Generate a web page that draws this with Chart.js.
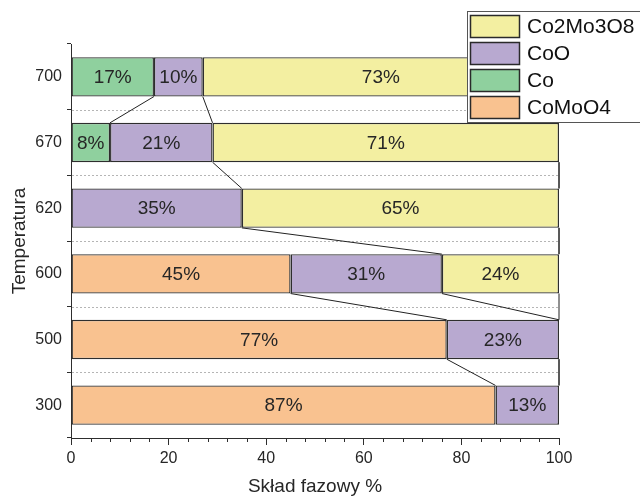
<!DOCTYPE html>
<html>
<head>
<meta charset="utf-8">
<script src="https://cdn.jsdelivr.net/npm/chart.js@4.4.1/dist/chart.umd.min.js"></script>
<style>
  html, body { margin: 0; padding: 0; background: #fff; }
  #wrap { width: 640px; height: 498px; position: relative; }
</style>
</head>
<body>
<div id="wrap"><canvas id="c" width="640" height="498"></canvas></div>
<script>
// ---- Data ----
const temperatures = ['700', '670', '620', '600', '500', '300'];
const seriesNames = ['CoMoO4', 'Co', 'CoO', 'Co2Mo3O8'];
const coMoO4 = [0, 0, 0, 45, 77, 87];
const co = [17, 8, 0, 0, 0, 0];
const coO = [10, 21, 35, 31, 23, 13];
const co2Mo3O8 = [73, 71, 65, 24, 0, 0];
const xTicks = [0, 20, 40, 60, 80, 100];
const legendOrder = ['Co2Mo3O8', 'CoO', 'Co', 'CoMoO4'];

const seriesValues = [coMoO4, co, coO, co2Mo3O8];
const seriesColors = ['#F9C290', '#8FD09E', '#B8A9D0', '#F3EFA1'];

const FONT = "'Liberation Sans', Arial, sans-serif";
const TEXT = '#262626';
const LINE = '#2e2e2e';

const datasets = seriesNames.map((name, i) => ({
  label: name,
  data: seriesValues[i].map(v => (v ? v : null)),
  backgroundColor: seriesColors[i],
  borderColor: LINE,
  borderWidth: 1.4,
  borderSkipped: false,
  barPercentage: 0.6,
  categoryPercentage: 1.0
}));

// Plugin: dotted separators between categories + minor x ticks
const decorPlugin = {
  id: 'decor',
  beforeDatasetsDraw(chart) {
    const { ctx, chartArea, scales } = chart;
    const y = scales.y;
    ctx.save();
    ctx.strokeStyle = '#b5b5b5';
    ctx.lineWidth = 1;
    ctx.setLineDash([2, 2]);
    for (let i = 0; i < temperatures.length - 1; i++) {
      const py = Math.round((y.getPixelForValue(i) + y.getPixelForValue(i + 1)) / 2) + 0.5;
      ctx.beginPath();
      ctx.moveTo(chartArea.left + 1, py);
      ctx.lineTo(chartArea.right, py);
      ctx.stroke();
    }
    ctx.restore();
  },
  afterDraw(chart) {
    const { ctx, chartArea, scales } = chart;
    const x = scales.x;
    ctx.save();
    ctx.strokeStyle = LINE;
    ctx.lineWidth = 1;
    for (let v = 4; v < 100; v += 4) {
      if (v % 20 === 0) continue;
      const px = Math.round(x.getPixelForValue(v)) + 0.5;
      ctx.beginPath();
      ctx.moveTo(px, chartArea.bottom);
      ctx.lineTo(px, chartArea.bottom + 4);
      ctx.stroke();
    }
    ctx.restore();
  }
};

// Plugin: connector lines between adjacent bars + value labels
const connectPlugin = {
  id: 'connect',
  afterDatasetsDraw(chart) {
    const { ctx } = chart;
    ctx.save();
    ctx.strokeStyle = '#222';
    ctx.lineWidth = 1;
    const metas = seriesNames.map((_, d) => chart.getDatasetMeta(d));
    for (let i = 0; i < temperatures.length - 1; i++) {
      let lastUpper = null, lastLower = null;
      for (let d = 0; d < seriesNames.length; d++) {
        const a = metas[d].data[i], b = metas[d].data[i + 1];
        const va = seriesValues[d][i], vb = seriesValues[d][i + 1];
        if (va) lastUpper = a;
        if (vb) lastLower = b;
        if (va && vb) {
          ctx.beginPath();
          ctx.moveTo(a.x, a.y + a.height / 2);
          ctx.lineTo(b.x, b.y - b.height / 2);
          ctx.stroke();
        }
      }
      if (lastUpper && lastLower) {
        ctx.beginPath();
        ctx.moveTo(lastUpper.x, lastUpper.y + lastUpper.height / 2);
        ctx.lineTo(lastLower.x, lastLower.y - lastLower.height / 2);
        ctx.stroke();
      }
    }
    // value labels
    ctx.fillStyle = TEXT;
    ctx.font = '19px ' + FONT;
    ctx.textAlign = 'center';
    ctx.textBaseline = 'middle';
    for (let d = 0; d < seriesNames.length; d++) {
      metas[d].data.forEach((el, i) => {
        const v = seriesValues[d][i];
        if (!v) return;
        ctx.fillText(v + '%', (el.x + el.base) / 2, el.y + 1);
      });
    }
    ctx.restore();
  }
};

// Plugin: legend box overlapping the top-right
const legendPlugin = {
  id: 'boxLegend',
  afterDraw(chart) {
    const { ctx } = chart;
    const bx = 467.5, by = 11.5, bw = 200, bh = 111;
    ctx.save();
    ctx.fillStyle = '#fff';
    ctx.fillRect(bx, by, bw, bh);
    ctx.strokeStyle = '#555';
    ctx.lineWidth = 1;
    ctx.strokeRect(bx, by, bw, bh);
    ctx.font = '21px ' + FONT;
    ctx.textAlign = 'left';
    ctx.textBaseline = 'middle';
    legendOrder.forEach((name, k) => {
      const d = seriesNames.indexOf(name);
      const sy = 15 + k * 27;
      ctx.fillStyle = seriesColors[d];
      ctx.fillRect(470, sy, 50, 23);
      ctx.strokeStyle = '#2a2a2a';
      ctx.lineWidth = 1.5;
      ctx.strokeRect(470.5, sy + 0.5, 49, 22);
      ctx.fillStyle = '#111';
      ctx.fillText(chart.data.datasets[d].label, 527, sy + 12);
    });
    ctx.restore();
  }
};

new Chart(document.getElementById('c'), {
  type: 'bar',
  data: { labels: temperatures, datasets },
  options: {
    indexAxis: 'y',
    responsive: false,
    animation: false,
    devicePixelRatio: 1,
    layout: { padding: { top: 44, right: 81, left: 0, bottom: 0 } },
    plugins: { legend: { display: false }, tooltip: { enabled: false } },
    scales: {
      x: {
        stacked: true,
        min: 0,
        max: 100,
        afterFit(s) { s.height = 60; },
        afterBuildTicks(s) { s.ticks = xTicks.map(v => ({ value: v })); },
        grid: { drawOnChartArea: false, drawTicks: true, tickLength: 7, tickColor: LINE },
        border: { display: true, color: LINE, width: 1 },
        ticks: { color: TEXT, font: { family: FONT, size: 16 }, padding: 4, maxRotation: 0 },
        title: { display: true, text: 'Skład fazowy %', color: TEXT, font: { family: FONT, size: 19 }, padding: { top: 0, bottom: 0 } }
      },
      y: {
        stacked: true,
        afterFit(s) { s.width = 71; },
        grid: { offset: true, drawOnChartArea: false, drawTicks: true, tickLength: 4, tickColor: LINE },
        border: { display: true, color: LINE, width: 1 },
        ticks: { color: TEXT, font: { family: FONT, size: 16 }, padding: 5 },
        title: { display: true, text: 'Temperatura', color: TEXT, font: { family: FONT, size: 19 }, padding: { top: 8, bottom: 0 } }
      }
    }
  },
  plugins: [decorPlugin, connectPlugin, legendPlugin]
});
</script>
</body>
</html>
